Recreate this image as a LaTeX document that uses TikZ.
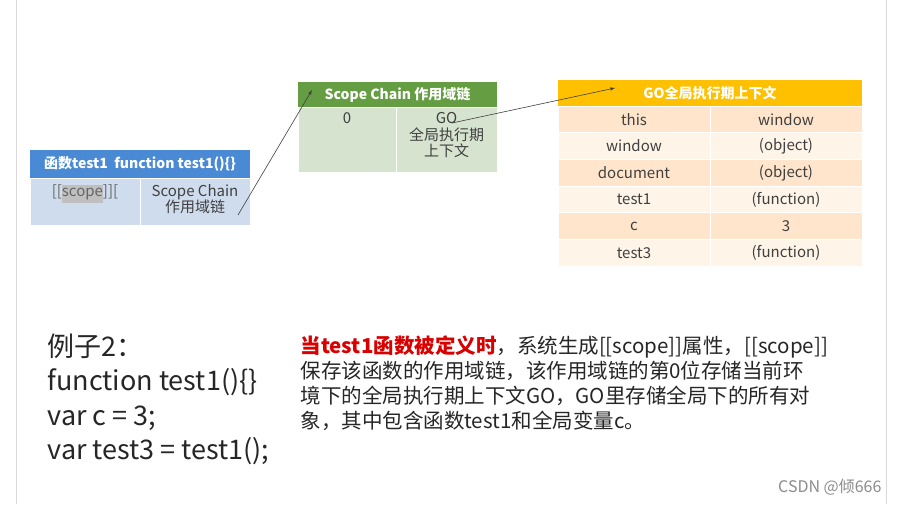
\documentclass[tikz,border=0pt]{standalone}
\usepackage{fontspec}
\setmainfont{Noto Sans CJK SC}
\begin{document}
\begin{tikzpicture}[x=1pt,y=-1pt,
  cell/.style={draw=white,line width=0.8pt,minimum height=#1,inner sep=0pt,font=\fontsize{15}{16}\selectfont,align=center},
  hd/.style={inner sep=0,text=white,font=\bfseries\fontsize{14}{15}\selectfont},
  bd/.style={draw=white,inner sep=0},
  tx/.style={anchor=north,font=\fontsize{15}{16.5}\selectfont,text=black!75,align=center},
  arr/.style={-latex,line width=0.6pt,black!75}]
\useasboundingbox (0,0) rectangle (898,504);
\fill[white] (0,0) rectangle (898,504);
\draw[black!15] (16,0) -- (16,504) (886,0) -- (886,504);
% left table
\node[hd,fill={rgb,255:red,74;green,138;blue,212},minimum width=220,minimum height=28] (lh) at (140,164) {函数test1\ \ function test1()\{\}};
\node[bd,fill={rgb,255:red,207;green,220;blue,238},minimum width=110,minimum height=47] (l1) at (85,201.5) {};
\node[bd,fill={rgb,255:red,207;green,220;blue,238},minimum width=110,minimum height=47] (l2) at (195,201.5) {};
\node[tx,text=black!60] (ls) at (85,181) {[[\colorbox{black!25}{\kern-3pt scope\kern-3pt}]][};
\node[tx] (lc) at (195,181) {Scope Chain\\作用域链};
% middle table
\node[hd,fill={rgb,255:red,100;green,157;blue,66},minimum width=199,minimum height=25] (mh) at (397.5,94.5) {Scope Chain 作用域链};
\node[bd,fill={rgb,255:red,213;green,227;blue,207},minimum width=98,minimum height=65] (m1) at (347,139.5) {};
\node[bd,fill={rgb,255:red,213;green,227;blue,207},minimum width=101,minimum height=65] (m2) at (446.5,139.5) {};
\node[tx] (m0) at (347,109) {0};
\node[tx] (mg) at (446.5,109) {GO\\全局执行期\\上下文};
% right table
\node[hd,fill={rgb,255:red,255;green,192;blue,0},minimum width=304,minimum height=26] (rh) at (710,93) {GO全局执行期上下文};
\foreach \a/\b [count=\i] in {this/window,window/(object),document/(object),test1/(function),c/3,test3/(function)}{
  \pgfmathsetmacro\yy{106+(\i-0.5)*26.7}
  \ifodd\i \def\cc{orange!20}\else\def\cc{orange!9}\fi
  \node[cell=26.7,fill=\cc,minimum width=152,text=black!75] (ra\i) at (634,\yy) {\a};
  \node[cell=26.7,fill=\cc,minimum width=152,text=black!75] (rb\i) at (786,\yy) {\b};
}
% arrows
\coordinate (s1) at (238,215);
\coordinate (e1) at (312,90);
\draw[arr] (s1) -- (e1);
\coordinate (s2) at (452,123);
\coordinate (e2) at (615,88);
\draw[arr] (s2) -- (e2);
% code
\node[anchor=north west,font=\fontsize{27}{34.5}\selectfont,align=left,text=black!85] (code) at (44,330) {例子2：\\function test1()\{\}\\var c = 3;\\var test3 = test1();};
\node[anchor=north west,font=\fontsize{20.5}{25}\selectfont,align=left,text=black!85,text width=590] (para) at (297,332) {\textcolor{red!85!black}{\bfseries 当test1函数被定义时}，系统生成[[scope]]属性，[[scope]]\\保存该函数的作用域链，该作用域链的第0位存储当前环\\境下的全局执行期上下文GO，GO里存储全局下的所有对\\象，其中包含函数test1和全局变量c。};
\node[anchor=east,font=\fontsize{16}{17}\selectfont,text=black!45] (wm) at (885,487) {CSDN @倾666};
\end{tikzpicture}
\end{document}
